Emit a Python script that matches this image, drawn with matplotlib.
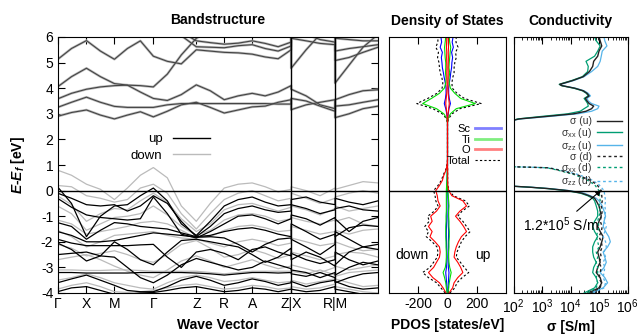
import matplotlib
matplotlib.use('Agg')
import matplotlib.pyplot as plt
from matplotlib.lines import Line2D
from matplotlib.ticker import LogLocator, NullFormatter

plt.rcParams['font.family'] = ['Liberation Sans', 'DejaVu Sans']
plt.rcParams['axes.unicode_minus'] = False
plt.rcParams['mathtext.fontset'] = 'custom'
plt.rcParams['mathtext.it'] = 'Liberation Sans:italic:bold'
plt.rcParams['mathtext.rm'] = 'Liberation Sans'
plt.rcParams['mathtext.bf'] = 'Liberation Sans:bold'

# ---------------- band structure ----------------
# path coordinate of each sampled k-point (duplicates = path breaks Z|X and R|M)
kpath = [0, 14, 29, 43, 57, 70, 83, 96, 110, 124, 139, 153, 167, 181, 195, 208, 221,
         234, 234, 249, 263, 278, 278, 292, 306, 321]
sym_pos = [0, 29, 57, 96, 139, 167, 195, 234, 278]
sym_lab = ['\u0393', 'X', 'M', '\u0393', 'Z', 'R', 'A', 'Z|X', 'R|M']
breaks = [234, 278]

# conduction bands (spin up and down nearly identical)
cond_bands = [
    [2.90, 3.05, 3.15, 2.95, 2.80, 2.95, 3.08, 2.88, 3.10, 3.35, 3.45, 3.25, 3.03, 3.15, 3.27, 3.30, 3.45, 3.55, 3.16, 3.35, 3.45, 3.55, 2.85, 3.00, 3.20, 3.30],
    [3.25, 3.45, 3.65, 3.45, 3.29, 3.25, 3.25, 3.25, 3.35, 3.40, 3.40, 3.40, 3.40, 3.40, 3.40, 3.40, 3.38, 3.38, 3.60, 3.50, 3.30, 3.10, 3.30, 3.35, 3.45, 3.55],
    [3.58, 3.80, 3.96, 4.05, 4.10, 4.12, 3.85, 3.60, 3.52, 3.75, 4.13, 3.90, 3.55, 3.70, 3.80, 3.70, 3.85, 4.10, 3.96, 3.70, 3.35, 3.20, 3.55, 3.75, 3.90, 3.94],
    [4.05, 4.45, 4.78, 4.45, 4.18, 4.12, 4.10, 4.05, 4.55, 5.30, 5.95, 6.25, 6.40, 6.40, 6.40, 6.40, 6.40, 6.40, 4.78, 5.50, 6.10, 6.40, 4.20, 4.90, 5.60, 6.10],
    [5.12, 5.55, 5.86, 5.45, 5.13, 5.55, 5.85, 5.25, 5.05, 4.95, 5.50, 5.45, 5.40, 5.38, 5.33, 5.22, 5.15, 5.50, 5.95, 5.85, 5.75, 5.70, 5.08, 5.20, 5.40, 5.60],
    [6.40, 6.40, 6.40, 6.40, 6.40, 6.40, 6.40, 6.40, 6.30, 6.05, 5.62, 5.60, 5.58, 5.66, 5.70, 5.55, 5.45, 5.65, 6.30, 6.10, 5.90, 5.80, 5.45, 5.55, 5.62, 5.70],
    [6.60, 6.60, 6.60, 6.60, 6.60, 6.60, 6.60, 6.60, 6.50, 6.20, 5.85, 5.78, 5.72, 5.76, 5.85, 5.75, 5.62, 5.80, 6.40, 6.30, 6.20, 6.05, 5.95, 5.90, 5.85, 5.85],
]

up_bands = [
    [0.15, -0.50, -1.80, -1.00, -0.60, -0.55, -0.20, 0.10, -0.40, -1.30, -1.75, -1.20, -0.60, -0.35, -0.25, -0.45, -0.60, -0.55, -0.35, -0.25, -0.45, -0.55, -0.30, -0.45, -0.55, -0.40],
    [-0.10, -0.30, -0.55, -0.60, -0.55, -0.80, -0.60, -0.20, -0.50, -1.20, -1.80, -1.40, -0.90, -0.70, -0.60, -0.75, -0.85, -0.80, -0.55, -0.70, -0.90, -0.75, -0.70, -0.60, -0.75, -0.80],
    [-0.30, -0.65, -0.95, -1.05, -1.10, -1.15, -1.10, -0.25, -0.90, -1.70, -1.85, -1.60, -1.30, -1.00, -0.95, -1.10, -1.30, -1.10, -0.95, -1.10, -1.35, -1.05, -1.10, -1.60, -1.20, -1.05],
    [-1.25, -1.40, -1.90, -1.55, -1.25, -1.30, -1.40, -1.45, -1.50, -1.65, -1.80, -1.75, -1.60, -1.50, -1.45, -1.55, -1.70, -1.80, -1.30, -1.60, -1.90, -1.70, -1.80, -1.45, -1.35, -1.40],
    [-1.60, -1.75, -2.00, -2.00, -1.95, -1.85, -1.75, -1.65, -1.70, -1.75, -1.82, -1.80, -1.85, -2.10, -2.40, -2.10, -1.90, -1.85, -1.90, -2.20, -2.50, -2.10, -1.60, -1.90, -2.20, -2.30],
    [-1.90, -2.05, -2.15, -2.15, -2.15, -2.15, -2.12, -2.10, -2.60, -3.00, -2.40, -2.30, -2.45, -2.70, -2.30, -2.20, -2.40, -2.55, -2.45, -2.70, -2.85, -2.70, -2.40, -2.70, -2.90, -2.75],
    [-2.05, -2.30, -2.75, -2.55, -2.00, -2.30, -2.70, -2.90, -2.40, -1.95, -1.90, -2.00, -2.10, -2.20, -2.50, -2.80, -2.60, -2.25, -2.70, -2.40, -2.60, -2.95, -2.90, -2.40, -2.20, -2.10],
    [-2.50, -2.45, -2.40, -2.55, -2.60, -3.00, -3.40, -3.60, -3.30, -2.90, -2.65, -2.80, -2.95, -3.10, -3.00, -2.75, -2.90, -3.05, -3.10, -3.20, -3.40, -3.20, -3.30, -3.00, -2.80, -2.90],
    [-3.20, -3.20, -3.22, -3.22, -3.22, -3.22, -3.20, -3.20, -3.20, -3.20, -3.22, -3.25, -3.30, -3.25, -3.20, -3.20, -3.22, -3.20, -3.25, -3.35, -3.20, -3.40, -3.60, -3.40, -3.25, -3.20],
    [-3.60, -3.45, -3.30, -3.50, -3.70, -3.90, -3.95, -3.95, -3.75, -3.50, -3.35, -3.50, -3.70, -3.60, -3.45, -3.55, -3.70, -3.60, -3.55, -3.75, -3.60, -3.50, -3.55, -3.75, -3.85, -3.80],
    [-3.95, -3.80, -3.75, -3.90, -4.05, -4.05, -4.00, -3.98, -3.90, -3.80, -3.75, -3.85, -3.95, -3.90, -3.80, -3.85, -3.95, -3.85, -3.85, -3.95, -3.90, -3.75, -3.85, -3.95, -4.05, -4.10],
]

down_bands = [
    [0.80, 0.60, 0.25, 0.05, -0.35, 0.10, 0.60, 0.90, 0.50, -0.60, -1.20, -0.50, 0.10, 0.25, 0.30, 0.15, -0.05, 0.05, 0.15, 0.00, -0.20, 0.10, 0.05, 0.20, 0.35, 0.30],
    [0.20, 0.15, -0.20, -0.30, -0.45, -0.35, 0.10, 0.25, -0.10, -0.90, -1.50, -0.90, -0.35, -0.10, 0.00, -0.20, -0.40, -0.30, -0.10, -0.30, -0.50, -0.30, -0.25, -0.10, 0.00, -0.10],
    [-0.20, -0.55, -1.20, -0.90, -0.70, -0.75, -0.40, -0.10, -0.45, -1.10, -1.60, -1.30, -0.75, -0.55, -0.50, -0.65, -0.80, -0.65, -0.60, -0.75, -0.95, -0.70, -0.60, -0.80, -0.70, -0.60],
    [-0.60, -0.90, -1.55, -1.30, -1.05, -1.00, -0.90, -0.60, -0.95, -1.40, -1.75, -1.55, -1.15, -0.95, -0.90, -1.00, -1.20, -1.10, -1.05, -1.20, -1.30, -1.15, -1.20, -1.05, -1.30, -1.40],
    [-1.15, -1.30, -1.70, -1.60, -1.50, -1.40, -1.25, -1.20, -1.30, -1.55, -1.85, -1.80, -1.55, -1.40, -1.35, -1.45, -1.60, -1.55, -1.40, -1.55, -1.70, -1.60, -1.55, -1.70, -1.55, -1.50],
    [-1.55, -1.80, -2.20, -2.00, -1.75, -1.70, -1.65, -1.60, -1.75, -1.85, -1.90, -2.05, -2.20, -2.00, -1.90, -2.00, -2.15, -2.05, -1.85, -2.00, -2.15, -2.05, -2.00, -2.20, -2.35, -2.30],
    [-2.10, -2.25, -2.55, -2.45, -2.35, -2.50, -2.70, -2.80, -2.50, -2.10, -1.95, -2.25, -2.60, -2.50, -2.30, -2.45, -2.65, -2.50, -2.40, -2.55, -2.70, -2.55, -2.50, -2.40, -2.45, -2.60],
    [-2.70, -2.60, -2.50, -2.70, -2.95, -3.15, -3.30, -3.40, -3.10, -2.75, -2.55, -2.75, -3.00, -2.85, -2.70, -2.90, -3.05, -2.95, -2.90, -3.05, -3.20, -3.00, -2.95, -3.10, -3.00, -2.90],
    [-3.10, -3.10, -3.12, -3.12, -3.10, -3.10, -3.12, -3.15, -3.15, -3.15, -3.15, -3.20, -3.25, -3.20, -3.15, -3.15, -3.15, -3.15, -3.15, -3.25, -3.10, -3.30, -3.35, -3.20, -3.15, -3.10],
    [-3.50, -3.40, -3.25, -3.40, -3.60, -3.70, -3.80, -3.85, -3.60, -3.40, -3.30, -3.40, -3.55, -3.50, -3.40, -3.50, -3.60, -3.55, -3.50, -3.65, -3.55, -3.45, -3.45, -3.60, -3.75, -3.70],
    [-3.85, -3.70, -3.60, -3.75, -3.95, -3.98, -3.95, -3.90, -3.80, -3.70, -3.65, -3.75, -3.85, -3.80, -3.70, -3.75, -3.85, -3.80, -3.75, -3.85, -3.80, -3.65, -3.75, -3.85, -3.95, -4.00],
]

# ---------------- density of states ----------------
dos_E = [-4.0, -3.8, -3.6, -3.4, -3.2, -3.0, -2.8, -2.6, -2.4, -2.2,
         -2.0, -1.8, -1.6, -1.4, -1.2, -1.0, -0.8, -0.6, -0.4, -0.2,
         0.0, 0.2, 0.4, 0.6, 0.8, 1.0, 1.2, 1.4, 1.6, 1.8,
         2.0, 2.2, 2.4, 2.6, 2.8, 3.0, 3.2, 3.4, 3.6, 3.8,
         4.0, 4.2, 4.4, 4.6, 4.8, 5.0, 5.2, 5.4, 5.6, 5.8, 6.0]
o_up = [10, 35, 45, 70, 105, 90, 70, 45, 50, 60,
        75, 95, 130, 110, 85, 55, 85, 130, 105, 30,
        8, 2, 1, 1, 1, 0, 0, 0, 0, 0,
        0, 0, 0, 0, 2, 4, 8, 12, 8, 5,
        3, 3, 4, 5, 4, 5, 6, 5, 7, 6, 5]
o_dn = [-10, -30, -55, -100, -130, -95, -75, -55, -50, -55,
        -85, -120, -105, -130, -105, -115, -75, -50, -65, -70,
        -80, -55, -35, -25, -10, -3, 0, 0, 0, 0,
        0, 0, 0, 0, -2, -4, -8, -12, -9, -5,
        -3, -3, -4, -5, -4, -5, -6, -5, -7, -6, -5]
ti_up = [3, 8, 12, 18, 25, 15, 10, 8, 8, 10,
         10, 12, 12, 10, 10, 8, 8, 10, 8, 5,
         2, 0, 0, 0, 0, 0, 0, 0, 0, 0,
         0, 0, 0, 0, 3, 20, 60, 190, 90, 50,
         20, 12, 10, 15, 10, 12, 15, 18, 22, 15, 12]
ti_dn = [-3, -8, -12, -20, -30, -15, -10, -8, -8, -10,
         -10, -12, -12, -12, -10, -10, -8, -8, -8, -8,
         -8, -6, -4, -3, -2, 0, 0, 0, 0, 0,
         0, 0, 0, 0, -3, -25, -75, -170, -110, -55,
         -22, -12, -10, -14, -12, -12, -16, -18, -20, -16, -12]
sc_up = [2, 4, 6, 8, 10, 6, 5, 4, 5, 6,
         6, 7, 8, 6, 5, 4, 5, 6, 5, 3,
         1, 0, 0, 0, 0, 0, 0, 0, 0, 0,
         0, 0, 0, 0, 1, 5, 10, 20, 12, 8,
         8, 12, 18, 22, 28, 30, 35, 28, 40, 32, 38]
sc_dn = [-2, -4, -6, -9, -12, -7, -5, -4, -5, -6,
         -7, -8, -8, -7, -6, -5, -5, -5, -5, -5,
         -5, -4, -3, -2, -1, 0, 0, 0, 0, 0,
         0, 0, 0, 0, -1, -5, -12, -22, -14, -10,
         -10, -15, -22, -28, -35, -38, -42, -35, -50, -40, -45]
tot_up = [16, 50, 65, 100, 145, 115, 88, 60, 65, 80,
          95, 120, 155, 130, 105, 70, 100, 150, 122, 40,
          12, 2, 1, 1, 1, 0, 0, 0, 0, 0,
          0, 0, 0, 0, 6, 32, 85, 230, 115, 65,
          33, 30, 35, 45, 45, 50, 60, 55, 72, 58, 60]
tot_dn = [-16, -45, -75, -130, -170, -120, -95, -70, -65, -72,
          -105, -145, -130, -155, -125, -135, -90, -65, -80, -85,
          -95, -65, -42, -30, -13, -4, 0, 0, 0, 0,
          0, 0, 0, 0, -6, -36, -100, -210, -135, -72,
          -37, -32, -38, -50, -55, -58, -68, -62, -80, -66, -65]

# ---------------- conductivity (S/m) ----------------
cb_E = [2.75, 2.80, 2.90, 3.00, 3.10, 3.20, 3.30, 3.40, 3.50, 3.60, 3.70, 3.80, 3.90, 4.00,
        4.10, 4.15, 4.20, 4.30, 4.45, 4.65, 4.85, 5.05, 5.25, 5.45, 5.65, 5.85, 6.00]
cb_sig = [1e2, 1.6e2, 1.5e3, 1.3e4, 3.5e4, 5.5e4, 6.5e4, 4.5e4, 3.8e4, 3.3e4, 4.5e4, 3.8e4, 2.8e4, 1.4e4,
          5e3, 4.2e3, 6e3, 1.2e4, 2.8e4, 4.6e4, 6e4, 6.5e4, 9e4, 1.0e5, 1.25e5, 1.1e5, 1.0e5]
cb_sxx = [1e2, 1.4e2, 1.0e3, 8e3, 2.2e4, 3.0e4, 4.2e4, 4.0e4, 3.5e4, 3.0e4, 4.2e4, 3.6e4, 2.6e4, 1.3e4,
          4.8e3, 4.0e3, 5.5e3, 1.1e4, 2.6e4, 4.0e4, 4.2e4, 3.5e4, 7e4, 9e4, 1.1e5, 8e4, 7e4]
cb_szz = [1e2, 1.8e2, 2.0e3, 1.8e4, 5.5e4, 9e4, 1.0e5, 5.5e4, 4.2e4, 3.8e4, 5e4, 4.2e4, 3.0e4, 1.5e4,
          5.2e3, 4.4e3, 6.5e3, 1.3e4, 3.0e4, 5.5e4, 9e4, 1.1e5, 1.2e5, 1.3e5, 1.9e5, 1.6e5, 1.5e5]

vu_E = [-4.0, -3.8, -3.6, -3.4, -3.2, -3.0, -2.8, -2.6, -2.4, -2.2, -2.0, -1.8, -1.6,
        -1.4, -1.2, -1.0, -0.8, -0.6, -0.4, -0.3, -0.2, -0.1, 0.0, 0.08, 0.13, 0.17]
vu_sig = [4e4, 1.0e5, 1.25e5, 1.1e5, 8e4, 9e4, 1.1e5, 1.0e5, 9e4, 1.1e5, 1.25e5, 1.4e5, 1.1e5,
          9e4, 1.0e5, 1.2e5, 1.1e5, 1.0e5, 8e4, 7e4, 4.5e4, 2.5e4, 8e3, 1.6e3, 4e2, 1e2]
vu_sxx = [3e4, 7e4, 9e4, 8e4, 6e4, 6.5e4, 8e4, 6.5e4, 6e4, 6e4, 7e4, 9e4, 7e4,
          6e4, 7e4, 9e4, 9e4, 8e4, 7e4, 6e4, 4e4, 2.2e4, 7e3, 1.5e3, 4e2, 1e2]
vu_szz = [5e4, 1.4e5, 2.0e5, 1.6e5, 1.1e5, 1.5e5, 1.8e5, 1.6e5, 1.4e5, 2.0e5, 2.5e5, 2.2e5, 1.7e5,
          1.4e5, 1.5e5, 1.7e5, 1.5e5, 1.3e5, 1.0e5, 8e4, 5e4, 3e4, 9e3, 1.8e3, 4.5e2, 1e2]

vd_E = [-4.0, -3.8, -3.6, -3.4, -3.2, -3.0, -2.8, -2.6, -2.4, -2.2, -2.0, -1.8, -1.6, -1.4,
        -1.2, -1.0, -0.8, -0.6, -0.4, -0.2, 0.0, 0.23, 0.4, 0.62, 0.80, 0.89, 0.91, 0.93]
vd_sig = [5e4, 1.1e5, 1.2e5, 1.0e5, 1.1e5, 1.2e5, 1.0e5, 1.2e5, 1.1e5, 1.3e5, 1.2e5, 1.0e5, 1.2e5, 1.3e5,
          1.1e5, 1.2e5, 1.3e5, 1.2e5, 1.3e5, 1.25e5, 1.2e5, 8.5e4, 5e4, 1.7e4, 4e3, 1.7e3, 5e2, 1e2]
vd_sxx = [4e4, 8e4, 9e4, 8e4, 9e4, 9e4, 8e4, 9e4, 8e4, 1.0e5, 9e4, 8e4, 9e4, 1.0e5,
          9e4, 1.0e5, 1.1e5, 1.0e5, 1.1e5, 1.05e5, 1.0e5, 7e4, 4e4, 1.4e4, 3.5e3, 1.5e3, 4.5e2, 1e2]
vd_szz = [6e4, 1.5e5, 1.7e5, 1.4e5, 1.5e5, 1.6e5, 1.4e5, 1.7e5, 1.5e5, 1.8e5, 1.7e5, 1.4e5, 1.6e5, 1.8e5,
          1.5e5, 1.6e5, 1.7e5, 1.6e5, 1.7e5, 1.6e5, 1.5e5, 1.0e5, 6e4, 2.0e4, 4.5e3, 1.9e3, 5.5e2, 1e2]
sig_ticks = [1e2, 1e3, 1e4, 1e5, 1e6]


W, H = 638.0, 335.0
fig = plt.figure(figsize=(6.38, 3.35), dpi=100)
ax_b = fig.add_axes([57.5 / W, 1 - 293 / H, (378 - 57.5) / W, 256 / H])
ax_d = fig.add_axes([389 / W, 1 - 293 / H, 117 / W, 256 / H])
ax_c = fig.add_axes([513.5 / W, 1 - 293 / H, 114 / W, 256 / H])

GREY = '#bbbbbb'

# bands
for b in down_bands:
    ax_b.plot(kpath, b, color=GREY, lw=0.9)
for b in cond_bands:
    ax_b.plot(kpath, b, color=GREY, lw=1.8)
for b in cond_bands:
    ax_b.plot(kpath, b, color='#444444', lw=0.8)
for b in up_bands:
    ax_b.plot(kpath, b, color='black', lw=0.9)
for xb in breaks:
    ax_b.axvline(xb, color='black', lw=1.0)
ax_b.axhline(0, color='black', lw=1.0)
ax_b.set_xlim(0, 321)
ax_b.set_ylim(-4, 6)
ax_b.set_xticks(sym_pos)
ax_b.set_xticklabels(sym_lab)
ax_b.set_yticks(range(-4, 7))
ax_b.tick_params(direction='in', top=True, right=True, labelsize=10, length=5, pad=3)
ax_b.set_title('Bandstructure', fontsize=10, fontweight='bold', pad=9)
ax_b.set_xlabel('Wave Vector', fontsize=10, fontweight='bold', labelpad=5)
fig.text(18 / W, 1 - 165 / H, '$E$-$E_f$ [eV]', rotation=90, ha='center', va='center',
         fontsize=10, fontweight='bold')
ax_b.legend(handles=[Line2D([], [], color='black', lw=1), Line2D([], [], color=GREY, lw=1)],
            labels=['up', 'down'], loc='upper right', bbox_to_anchor=(0.476, 0.625),
            frameon=False, markerfirst=False, fontsize=9.5, handlelength=2.8,
            labelspacing=0.35, borderpad=0, borderaxespad=0, handletextpad=0.8)

# DOS
ax_d.plot(tot_up, dos_E, color='black', lw=0.8, dashes=(2, 2))
ax_d.plot(tot_dn, dos_E, color='black', lw=0.8, dashes=(2, 2))
ax_d.plot(sc_up, dos_E, color='#0000ff', lw=0.8)
ax_d.plot(sc_dn, dos_E, color='#0000ff', lw=0.8)
ax_d.plot(ti_up, dos_E, color='#00dd00', lw=0.8)
ax_d.plot(ti_dn, dos_E, color='#00dd00', lw=0.8)
ax_d.plot(o_up, dos_E, color='#ff0000', lw=0.8)
ax_d.plot(o_dn, dos_E, color='#ff0000', lw=0.8)
ax_d.axhline(0, color='black', lw=1.0)
ax_d.set_xlim(-400, 400)
ax_d.set_ylim(-4, 6)
ax_d.set_xticks([-200, 0, 200])
ax_d.set_yticks([])
ax_d.tick_params(direction='in', top=True, labelsize=10, length=5, pad=3)
ax_d.set_title('Density of States', fontsize=10, fontweight='bold', pad=9)
ax_d.set_xlabel('PDOS [states/eV]', fontsize=10, fontweight='bold', labelpad=5)
ax_d.text(-240, -2.5, 'down', fontsize=10, ha='center', va='center')
ax_d.text(242, -2.5, 'up', fontsize=10, ha='center', va='center')
ax_d.legend(handles=[Line2D([], [], color='#8080ff', lw=2),
                     Line2D([], [], color='#80ee80', lw=2),
                     Line2D([], [], color='#ff8080', lw=2),
                     Line2D([], [], color='black', lw=0.8, dashes=(2, 2))],
            labels=['Sc', 'Ti', 'O', 'Total'], loc='upper right', bbox_to_anchor=(0.96, 0.66),
            frameon=False, markerfirst=False, fontsize=8, handlelength=2.4,
            labelspacing=0.05, borderpad=0, borderaxespad=0, handletextpad=0.4)

# conductivity
C_TOT, C_XX, C_ZZ = '#222222', '#009e73', '#56b4e9'
ax_c.plot(cb_szz, cb_E, color=C_ZZ, lw=0.9)
ax_c.plot(cb_sxx, cb_E, color=C_XX, lw=0.9)
ax_c.plot(cb_sig, cb_E, color=C_TOT, lw=1.0)
ax_c.plot(vu_szz, vu_E, color=C_ZZ, lw=0.9)
ax_c.plot(vu_sxx, vu_E, color=C_XX, lw=0.9)
ax_c.plot(vu_sig, vu_E, color=C_TOT, lw=1.0)
ax_c.plot(vd_szz, vd_E, color=C_ZZ, lw=0.9, dashes=(2, 2))
ax_c.plot(vd_sxx, vd_E, color=C_XX, lw=0.9, dashes=(2, 2))
ax_c.plot(vd_sig, vd_E, color=C_TOT, lw=1.0, dashes=(2, 2))
ax_c.axhline(0, color='black', lw=1.0)
ax_c.set_xscale('log')
ax_c.set_xlim(1e2, 1e6)
ax_c.set_ylim(-4, 6)
ax_c.set_xticks(sig_ticks)
ax_c.xaxis.set_minor_locator(LogLocator(base=10, subs=range(2, 10), numticks=20))
ax_c.xaxis.set_minor_formatter(NullFormatter())
ax_c.set_yticks([])
ax_c.tick_params(which='both', direction='in', top=True, labelsize=10, pad=3)
ax_c.tick_params(which='major', length=5)
ax_c.tick_params(which='minor', length=2.5)
ax_c.set_title('Conductivity', fontsize=10, fontweight='bold', pad=9)
ax_c.set_xlabel('\u03c3 [S/m]', fontsize=10, fontweight='bold', labelpad=3)
ax_c.annotate('1.2*10$^\\mathregular{5}$ S/m', xy=(1.2e5, 0.02), xytext=(4.5e3, -1.35),
              fontsize=10, ha='center', va='center',
              arrowprops=dict(arrowstyle='-|>', color='black', lw=0.8, mutation_scale=8,
                              shrinkA=2, shrinkB=0))
leg_h = [Line2D([], [], color=C_TOT, lw=1), Line2D([], [], color=C_XX, lw=1),
         Line2D([], [], color=C_ZZ, lw=1), Line2D([], [], color=C_TOT, lw=1, dashes=(2, 2)),
         Line2D([], [], color=C_XX, lw=1, dashes=(2, 2)), Line2D([], [], color=C_ZZ, lw=1, dashes=(2, 2))]
leg_l = ['\u03c3 (u)', '\u03c3$_\\mathregular{xx}$ (u)', '\u03c3$_\\mathregular{zz}$ (u)',
         '\u03c3 (d)', '\u03c3$_\\mathregular{xx}$ (d)', '\u03c3$_\\mathregular{zz}$ (d)']
ax_c.legend(handles=leg_h, labels=leg_l, loc='upper right', bbox_to_anchor=(0.95, 0.69),
            frameon=False, markerfirst=False, fontsize=7.5, handlelength=2.4,
            labelspacing=-0.08, borderpad=0, borderaxespad=0, handletextpad=0.5,
            labelcolor='#333333')

fig.savefig('out.png', dpi=100)
